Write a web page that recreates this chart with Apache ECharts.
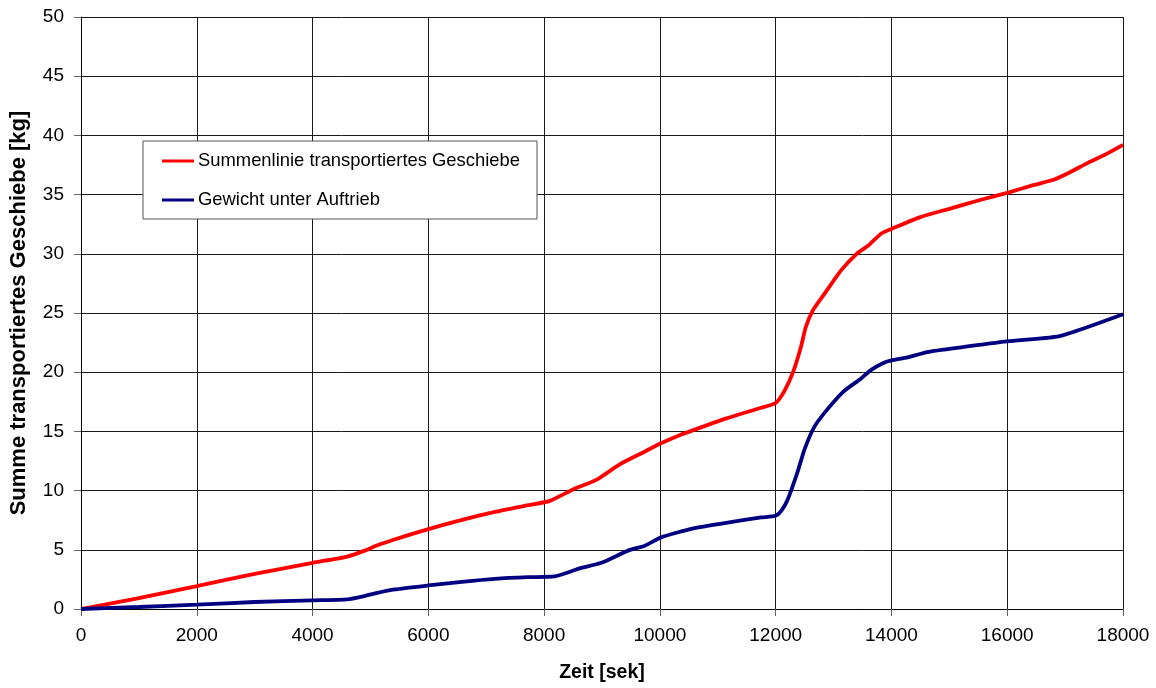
<!DOCTYPE html>
<html>
<head>
<meta charset="utf-8">
<script src="https://cdn.jsdelivr.net/npm/echarts@6/dist/echarts.min.js"></script>
<style>
  html, body { margin: 0; padding: 0; background: #fff; }
  #chart { width: 1156px; height: 688px; }
</style>
</head>
<body>
<div id="chart"></div>
<script>
// Cumulative transported bed load over time
const redTime = [0, 1000, 2000, 3000, 4000, 4600, 4900, 5100, 5400, 6000, 6600, 7150, 7700, 8100, 8500, 8900, 9300, 9700, 10000, 10350, 10600, 11150, 11750, 12000, 12150, 12300, 12440, 12520, 12640, 12840, 13130, 13400, 13600, 13820, 14000, 14500, 15000, 15500, 16000, 16450, 16800, 17050, 17400, 17700, 18000];
const redValues = [0, 0.92, 1.93, 2.97, 3.9, 4.43, 4.93, 5.35, 5.85, 6.75, 7.55, 8.2, 8.75, 9.13, 10.1, 10.9, 12.2, 13.2, 13.95, 14.7, 15.15, 16.1, 17.0, 17.4, 18.4, 20.0, 22.2, 23.8, 25.2, 26.6, 28.6, 30.0, 30.7, 31.7, 32.1, 33.1, 33.8, 34.5, 35.15, 35.8, 36.25, 36.8, 37.7, 38.4, 39.2];

// Submerged weight over time
const blueTime = [0, 1000, 2000, 3000, 4000, 4600, 4880, 5100, 5420, 6000, 6580, 7150, 7720, 8180, 8590, 8990, 9450, 9740, 10020, 10370, 10600, 11170, 11750, 12000, 12100, 12210, 12380, 12500, 12670, 12900, 13180, 13470, 13650, 13870, 14000, 14280, 14620, 15200, 16000, 16860, 17380, 18000];
const blueValues = [0, 0.17, 0.37, 0.59, 0.73, 0.81, 1.07, 1.34, 1.65, 1.99, 2.3, 2.55, 2.69, 2.75, 3.39, 3.9, 4.93, 5.35, 6.05, 6.55, 6.83, 7.3, 7.73, 7.87, 8.3, 9.27, 11.6, 13.5, 15.4, 16.9, 18.4, 19.45, 20.2, 20.8, 21.0, 21.25, 21.7, 22.1, 22.6, 23.0, 23.8, 24.9];

const seriesNames = ['Summenlinie transportiertes Geschiebe', 'Gewicht unter Auftrieb'];
const seriesColors = ['#ff0000', '#000080'];
const xTitle = 'Zeit [sek]';
const yTitle = 'Summe transportiertes Geschiebe [kg]';

const pairs = (t, v) => t.map((x, i) => [x, v[i]]);
const FONT = "'Liberation Sans', Arial, sans-serif";

const chart = echarts.init(document.getElementById('chart'), null, { renderer: 'canvas' });
chart.setOption({
  animation: false,
  backgroundColor: '#fff',
  textStyle: { fontFamily: FONT },
  grid: { left: 79, right: 33, top: 17, bottom: 76, containLabel: false },
  legend: {
    orient: 'vertical',
    left: 143,
    top: 141,
    padding: [10, 17, 9, 19],
    itemGap: 19,
    itemWidth: 32,
    itemHeight: 3,
    borderColor: '#555',
    borderWidth: 1,
    backgroundColor: '#fff',
    textStyle: { fontFamily: FONT, fontSize: 18.4, color: '#000', lineHeight: 20, padding: [0, 0, 0, -1] },
    data: seriesNames.map((n, i) => ({ name: n, icon: 'rect', itemStyle: { color: seriesColors[i] } }))
  },
  xAxis: {
    type: 'value',
    min: 0, max: 18000, interval: 2000,
    name: xTitle,
    nameLocation: 'middle',
    nameGap: 54,
    nameTextStyle: { fontFamily: FONT, fontSize: 19.5, fontWeight: 'bold', color: '#000' },
    axisLine: { show: true, lineStyle: { color: '#000', width: 1 } },
    axisTick: { show: true, inside: false, length: 7, lineStyle: { color: '#666' } },
    axisLabel: { fontFamily: FONT, fontSize: 19, color: '#000', margin: 17, formatter: v => String(v) },
    splitLine: { show: true, lineStyle: { color: '#1a1a1a', width: 1 } }
  },
  yAxis: {
    type: 'value',
    min: 0, max: 50, interval: 5,
    name: yTitle,
    nameLocation: 'middle',
    nameGap: 51,
    nameTextStyle: { fontFamily: FONT, fontSize: 22, fontWeight: 'bold', color: '#000' },
    axisLine: { show: true, lineStyle: { color: '#000', width: 1 } },
    axisTick: { show: true, inside: false, length: 7, lineStyle: { color: '#666' } },
    axisLabel: { fontFamily: FONT, fontSize: 19, color: '#000', margin: 17 },
    splitLine: { show: true, lineStyle: { color: '#1a1a1a', width: 1 } }
  },
  series: [
    {
      name: seriesNames[0],
      type: 'line',
      data: pairs(redTime, redValues),
      showSymbol: false,
      symbol: 'none',
      smooth: 0.2,
      lineStyle: { color: seriesColors[0], width: 3.8 },
      itemStyle: { color: seriesColors[0] },
      z: 3
    },
    {
      name: seriesNames[1],
      type: 'line',
      data: pairs(blueTime, blueValues),
      showSymbol: false,
      symbol: 'none',
      smooth: 0.2,
      lineStyle: { color: seriesColors[1], width: 3.8 },
      itemStyle: { color: seriesColors[1] },
      z: 3
    }
  ]
});
</script>
</body>
</html>
